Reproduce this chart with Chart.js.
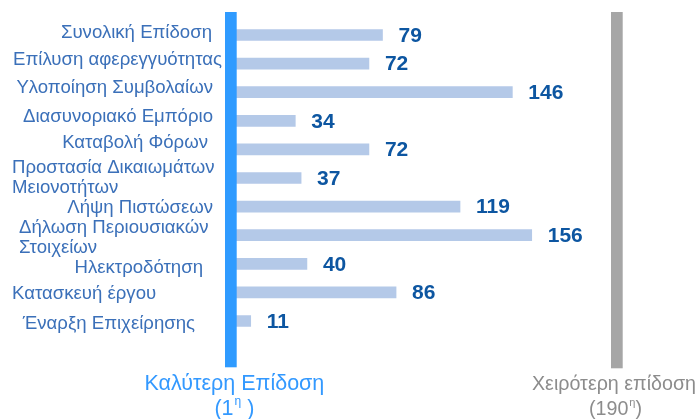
<!DOCTYPE html>
<html>
<head>
<meta charset="utf-8">
<style>
  html, body { margin: 0; padding: 0; background: #fff; }
  #wrap { width: 699px; height: 419px; }
</style>
</head>
<body>
<div id="wrap"><canvas id="barChart" width="699" height="419"></canvas></div>
<script src="https://cdn.jsdelivr.net/npm/chart.js"></script>
<script>
    // rankings out of 190 economies
    var categories = [
        'Συνολική Επίδοση',
        'Επίλυση αφερεγγυότητας',
        'Υλοποίηση Συμβολαίων',
        'Διασυνοριακό Εμπόριο',
        'Καταβολή Φόρων',
        ['Προστασία Δικαιωμάτων', 'Μειονοτήτων'],
        'Λήψη Πιστώσεων',
        ['Δήλωση Περιουσιακών', 'Στοιχείων'],
        'Ηλεκτροδότηση',
        'Κατασκευή έργου',
        'Έναρξη Επιχείρησης'
    ];
    var ranks = [79, 72, 146, 34, 72, 37, 119, 156, 40, 86, 11];
    var bestLabel = ['Καλύτερη Επίδοση', '1'];
    var worstLabel = ['Χειρότερη επίδοση', '190'];
    var axisMax = 200;

    var FONT = '"Liberation Sans", Arial, sans-serif';
    // where each category label sits (x edge, baseline offsets from bar centre)
    var labelLayout = [
        { align: 'right', x: 212, dy: [2.7] },
        { align: 'left', x: 13, dy: [1.4], width: 209 },
        { align: 'right', x: 213, dy: [1.1] },
        { align: 'right', x: 213, dy: [0.9] },
        { align: 'right', x: 208, dy: [-1.1] },
        { align: 'left', x: 12, dy: [-5.3, 14.7] },
        { align: 'right', x: 213, dy: [6.1] },
        { align: 'left', x: 19, dy: [-1.9, 18.1] },
        { align: 'right', x: 203, dy: [9.5] },
        { align: 'left', x: 12, dy: [6.9] },
        { align: 'right', x: 195, dy: [8.3] }
    ];

    function drawOrdinal(c, num, close, cx, y, size) {
        var a = '(' + num, s = 'η';
        var ss = Math.round(size * 0.56);
        c.font = size + 'px ' + FONT;
        var wa = c.measureText(a).width, wb = c.measureText(close).width;
        c.font = ss + 'px ' + FONT;
        var ws = c.measureText(s).width;
        var x = cx - (wa + ws + wb + 1) / 2;
        c.textAlign = 'left';
        c.textBaseline = 'alphabetic';
        c.font = size + 'px ' + FONT;
        c.fillText(a, x, y);
        c.font = ss + 'px ' + FONT;
        c.fillText(s, x + wa + 1, y - size * 0.47);
        c.font = size + 'px ' + FONT;
        c.fillText(close, x + wa + ws + 1, y);
    }

    var decor = {
        id: 'decor',
        afterDatasetsDraw: function (chart) {
            var c = chart.ctx, xs = chart.scales.x, ys = chart.scales.y, area = chart.chartArea;
            var meta = chart.getDatasetMeta(0);
            c.save();
            // value labels
            c.fillStyle = '#0d56a1';
            c.font = 'bold 21px ' + FONT;
            c.textAlign = 'left';
            c.textBaseline = 'middle';
            meta.data.forEach(function (bar, i) {
                c.fillText(String(ranks[i]), bar.x + 16, bar.y + 1);
            });
            // best / worst markers
            var x0 = xs.getPixelForValue(0), x1 = xs.getPixelForValue(axisMax);
            var top = area.top - 8.7, bottom = area.bottom + 32;
            c.fillStyle = '#2f9bff';
            c.fillRect(x0 - 4.4, top, 11.7, bottom - top);
            c.fillStyle = '#a6a6a6';
            c.fillRect(x1 - 6, top, 11.7, bottom - top + 1);
            // category labels
            c.fillStyle = '#3b70b9';
            c.font = '18.6px ' + FONT;
            c.textBaseline = 'alphabetic';
            categories.forEach(function (lab, i) {
                var lines = Array.isArray(lab) ? lab : [lab];
                var L = labelLayout[i];
                var yc = ys.getPixelForValue(i);
                lines.forEach(function (t, k) {
                    c.textAlign = L.align;
                    if (L.width) {
                        var w = c.measureText(t).width;
                        c.save();
                        c.translate(L.x, yc + L.dy[k]);
                        c.scale(L.width / w, 1);
                        c.fillText(t, 0, 0);
                        c.restore();
                    } else {
                        c.fillText(t, L.x, yc + L.dy[k]);
                    }
                });
            });
            // bottom captions
            c.textAlign = 'center';
            c.fillStyle = '#3399ff';
            c.font = '21.5px ' + FONT;
            c.fillText(bestLabel[0], x0 + 5, 390);
            drawOrdinal(c, bestLabel[1], ' )', x0 + 5, 415, 21.5);
            c.fillStyle = '#8c8c8c';
            c.textAlign = 'center';
            c.font = '19.7px ' + FONT;
            c.fillText(worstLabel[0], x1 - 3, 390);
            drawOrdinal(c, worstLabel[1], ')', x1 - 1.5, 415, 19.7);
            c.restore();
        }
    };

    var ctx = document.getElementById('barChart').getContext('2d');
    var data = {
        labels: categories,
        datasets: [{
            data: ranks,
            backgroundColor: '#b4c9e8',
            barThickness: 11
        }]
    };
    var options = {
        responsive: false,
        maintainAspectRatio: false,
        animation: false,
        indexAxis: 'y',
        layout: { padding: { left: 229.4, right: 82, top: 20.7, bottom: 83.7 } },
        plugins: { legend: { display: false }, tooltip: { enabled: false } },
        scales: {
            x: { display: false, min: 0, max: axisMax },
            y: { display: false }
        }
    };
    var myBarChart = new Chart(ctx, {
        type: 'bar',
        data: data,
        options: options,
        plugins: [decor]
    });
</script>
</body>
</html>
